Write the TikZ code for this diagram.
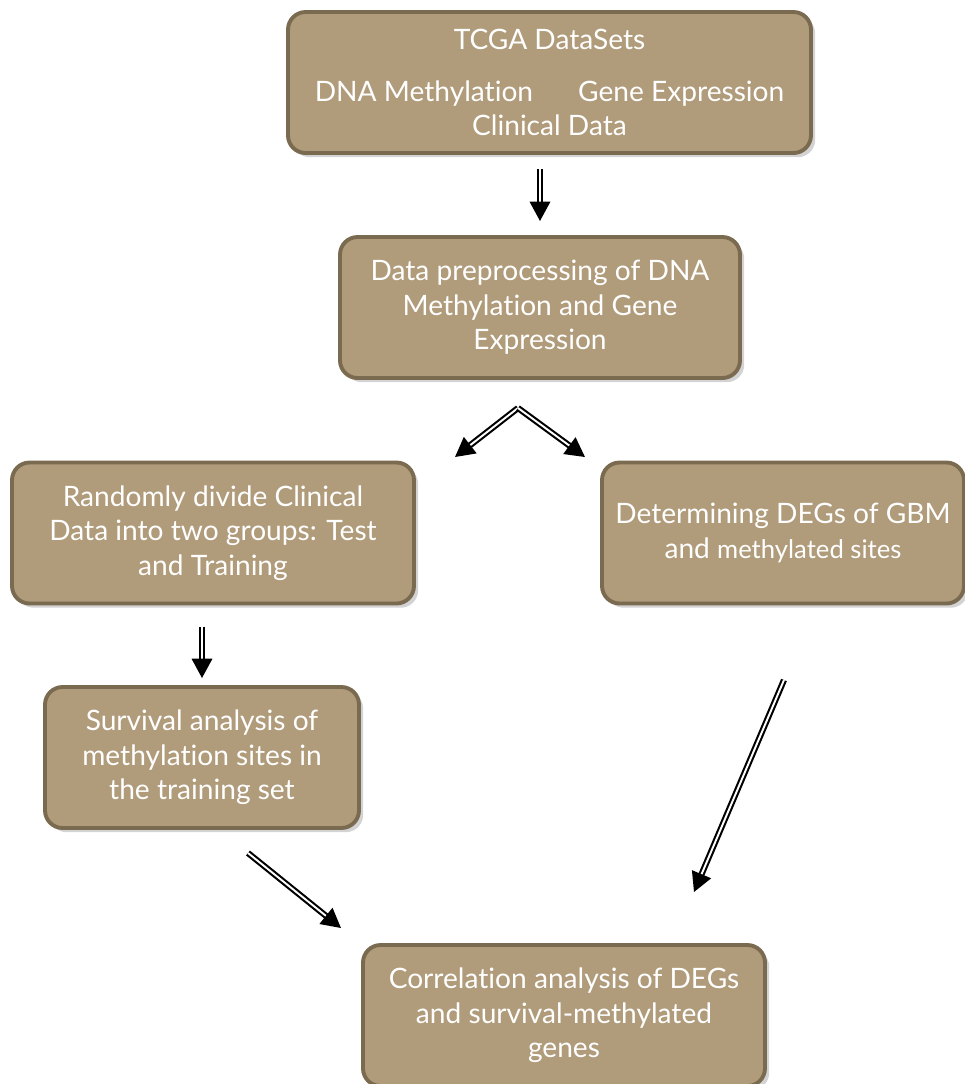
\documentclass[tikz,border=0pt]{standalone}
\usepackage{fontspec}
\setmainfont{Lato}[Ligatures={NoCommon}]
\usetikzlibrary{arrows.meta, positioning, shadows}
\definecolor{box-fill}{HTML}{B09B7A}
\definecolor{box-border}{HTML}{7A6A50}
\definecolor{arrow-ink}{HTML}{000000}
\tikzset{
  stepbox/.style={
    rectangle, rounded corners=5pt, draw=box-border, fill=box-fill,
    line width=1.1pt, minimum height=1.41cm, inner sep=2pt,
    align=center, text=white, font=\fontsize{8}{9.8}\selectfont,
    drop shadow={opacity=0.35, shadow xshift=1.2pt, shadow yshift=-1.2pt}
  },
  dblarrow/.style={
    draw=arrow-ink, double=white, line width=0.6pt, double distance=0.55pt,
    -{Triangle[length=5.5pt, width=5.8pt]}
  }
}
\begin{document}
\begin{tikzpicture}

  \useasboundingbox (0,0) rectangle (9.65,-10.84);
  \clip (0,0) rectangle (9.65,-10.84);

  % ---- Boxes ---------------------------------------------------------------
  \node[stepbox, minimum width=5.23cm] (tcga) at (5.495, -0.825)
        {TCGA DataSets\\[5pt]
         DNA Methylation\hspace{1.6em}Gene Expression\\ Clinical Data};
  \node[stepbox, minimum width=4.00cm] (prep) at (5.40, -3.075)
        {Data preprocessing of DNA\\ Methylation and Gene\\ Expression};
  \node[stepbox, minimum width=4.02cm] (split) at (2.13, -5.33)
        {Randomly divide Clinical\\ Data into two groups: Test\\ and Training};
  \node[stepbox, minimum width=3.62cm] (degs) at (7.83, -5.33)
        {Determining DEGs of GBM\\ and {\fontsize{7.3}{9.8}\selectfont methylated sites}};
  \node[stepbox, minimum width=3.14cm] (surv) at (2.02, -7.575)
        {Survival analysis of\\ methylation sites in\\ the training set};
  \node[stepbox, minimum width=4.02cm] (corr) at (5.64, -10.155)
        {Correlation analysis of DEGs\\ and survival-methylated\\ genes};

  % ---- Arrow ends that float between the boxes -----------------------------
  \coordinate (fork)    at (5.18, -4.08);
  \coordinate (forkL)   at (4.55, -4.57);
  \coordinate (forkR)   at (5.85, -4.57);
  \coordinate (survOut) at (2.48, -8.53);
  \coordinate (corrIn)  at (3.41, -9.28);
  \coordinate (degsOut) at (7.84, -6.80);
  \coordinate (corrIn2) at (6.94, -8.92);

  % ---- Arrows --------------------------------------------------------------
  \draw[dblarrow, shorten <=4pt, shorten >=4pt]
        (prep.north |- tcga.south) -- (prep.north);
  \draw[dblarrow] (fork) -- (forkL);
  \draw[dblarrow] (fork) -- (forkR);
  \draw[dblarrow, shorten <=6pt, shorten >=2pt]
        (surv.north |- split.south) -- (surv.north);
  \draw[dblarrow] (survOut) -- (corrIn);
  \draw[dblarrow] (degsOut) -- (corrIn2);

\end{tikzpicture}
\end{document}
